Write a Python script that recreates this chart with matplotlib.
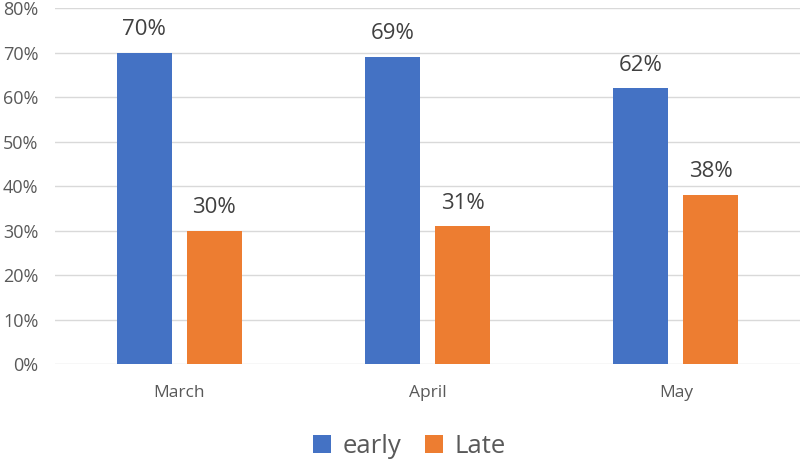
import matplotlib
matplotlib.use('Agg')
import matplotlib.pyplot as plt
import numpy as np

plt.rcParams['font.family'] = ['Open Sans', 'DejaVu Sans']

months = ['March', 'April', 'May']
early = [0.70, 0.69, 0.62]
late = [0.30, 0.31, 0.38]

blue = '#4472C4'
orange = '#ED7D31'
gray = '#595959'

fig = plt.figure(figsize=(8, 4.61), dpi=100)
ax = fig.add_axes([0.069, 0.2104, 0.931, 0.7722])

x = np.arange(len(months))
w = 0.222
b1 = ax.bar(x - 0.141, early, w, color=blue, label='early', zorder=3)
b2 = ax.bar(x + 0.141, late, w, color=orange, label='Late', zorder=3)

for bars in (b1, b2):
    for r in bars:
        h = r.get_height()
        ax.annotate('%d%%' % round(h * 100), (r.get_x() + r.get_width() / 2, h),
                    xytext=(0, 9), textcoords='offset points',
                    ha='center', va='bottom', fontsize=16, color='#404040')

ax.set_xlim(-0.5, 2.5)
ax.set_ylim(0, 0.8)
ax.set_yticks(np.arange(0, 0.81, 0.1))
ax.set_yticklabels(['%d%%' % v for v in range(0, 81, 10)])
ax.set_xticks(x)
ax.set_xticklabels(months)
ax.tick_params(axis='y', length=0, pad=12, labelsize=13, labelcolor=gray)
ax.tick_params(axis='x', length=0, pad=15, labelsize=12.5, labelcolor=gray)
ax.yaxis.grid(True, color='#D9D9D9', linewidth=1, zorder=0)
for s in ax.spines.values():
    s.set_visible(False)

ax.legend(loc='center', bbox_to_anchor=(0.512, 0.032), bbox_transform=fig.transFigure,
          ncol=2, frameon=False, fontsize=18.5, handlelength=0.7, handleheight=0.7,
          handletextpad=0.45, columnspacing=0.9, labelcolor=gray)

fig.savefig('out.png', dpi=100)
